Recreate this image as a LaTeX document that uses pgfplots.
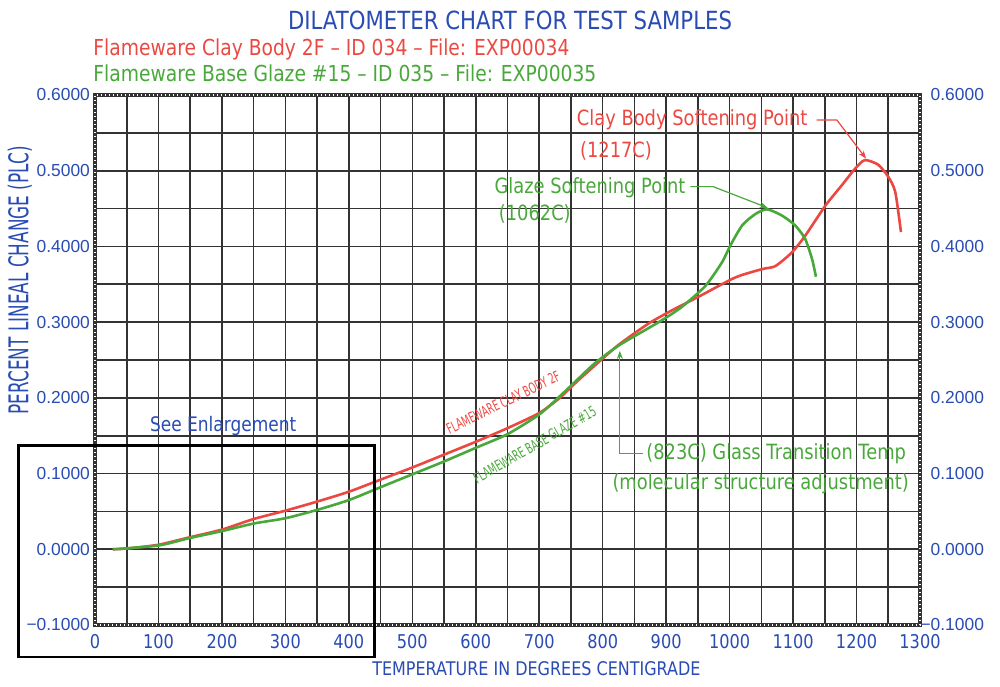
\documentclass[border=0pt]{standalone}
\usepackage{fontspec}
\setmainfont{DejaVu Sans}[FakeStretch=0.85]
\newfontfamily\narrowfont{DejaVu Sans}[FakeStretch=0.62]
\newfontfamily\tickfont{Liberation Sans}
\usepackage{pgfplots}
\pgfplotsset{compat=1.18}
\usetikzlibrary{arrows.meta}
\definecolor{cadblue}{RGB}{40,75,180}
\definecolor{cadred}{RGB}{236,72,66}
\definecolor{cadgreen}{RGB}{72,168,58}

\pgfplotstableread{
x y
28 0.000
50 0.001
100 0.006
150 0.016
200 0.026
250 0.040
300 0.051
350 0.063
400 0.076
450 0.092
500 0.108
550 0.125
600 0.142
650 0.160
700 0.180
731 0.199
760 0.222
788 0.243
825 0.270
872 0.298
910 0.316
952 0.334
1009 0.359
1051 0.370
1072 0.374
1098 0.392
1119 0.414
1151 0.454
1177 0.481
1198 0.503
1213 0.514
1234 0.508
1250 0.492
1261 0.472
1270 0.419
}\claydata

\pgfplotstableread{
x y
28 0.000
100 0.005
150 0.015
200 0.024
250 0.034
300 0.041
350 0.052
400 0.065
450 0.082
500 0.099
550 0.116
600 0.134
650 0.152
700 0.178
731 0.201
760 0.224
788 0.246
825 0.269
872 0.292
900 0.306
926 0.321
962 0.348
988 0.379
1001 0.401
1020 0.428
1041 0.443
1059 0.449
1082 0.441
1103 0.428
1119 0.410
1130 0.383
1136 0.360
}\glazedata

\begin{document}
\begin{tikzpicture}
\useasboundingbox (-47.5pt,-30.5pt) rectangle (452.5pt,312.5pt);
\begin{axis}[
  scale only axis, width=412.5pt, height=265pt,
  xmin=0, xmax=1300, ymin=-0.1, ymax=0.6,
  xtick={0,100,200,300,400,500,600,700,800,900,1000,1100,1200,1300},
  xticklabels={0,100,200,300,400,500,600,700,800,900,1000,1100,1200,1300},
  ytick={-0.1,0,0.1,0.2,0.3,0.4,0.5,0.6},
  yticklabels={−0.1000,0.0000,0.1000,0.2000,0.3000,0.4000,0.5000,0.6000},
  minor x tick num=1, minor y tick num=1,
  grid=both,
  major grid style={black!80, line width=0.8pt},
  minor grid style={black!80, line width=0.8pt},
  major tick length=0pt, minor tick length=0pt,
  axis line style={line width=2.4pt, black!80},
  xticklabel style={font=\fontsize{9.5}{10}\selectfont, text=cadblue, yshift=-1pt},
  yticklabel style={font=\tickfont\fontsize{8.7}{10}\selectfont, text=cadblue, xshift=1pt},
  xlabel={TEMPERATURE IN DEGREES CENTIGRADE},
  xlabel style={at={(axis description cs:0.535,-0.083)}, anchor=center, font=\fontsize{9.4}{10}\selectfont, text=cadblue},
  ylabel={PERCENT LINEAL CHANGE (PLC)},
  ylabel style={at={(axis description cs:-0.091,0.651)}, anchor=center, font=\narrowfont\fontsize{13.6}{14}\selectfont, text=cadblue},
  clip=false,
]
\addplot[cadred, line width=1.3pt, smooth, tension=0.4] table[x=x,y=y]{\claydata};
\addplot[cadgreen, line width=1.3pt, smooth, tension=0.4] table[x=x,y=y]{\glazedata};

% chain-like frame
\draw[white, line width=0.8pt, dash pattern=on 0.7pt off 1.3pt] (rel axis cs:0,0) rectangle (rel axis cs:1,1);

% headers
\node[text=cadblue, font=\fontsize{12.5}{14}\selectfont] at (axis cs:654,0.698) {DILATOMETER CHART FOR TEST SAMPLES};
\node[text=cadred, anchor=west, inner sep=0pt, font=\fontsize{11}{13}\selectfont] at (axis cs:-3,0.660) {Flameware Clay Body 2F – ID 034 – File: EXP00034};
\node[text=cadgreen, anchor=west, inner sep=0pt, font=\fontsize{11}{13}\selectfont] at (axis cs:-3,0.628) {Flameware Base Glaze \#15 – ID 035 – File: EXP00035};

% enlargement box
\draw[black, line width=1.3pt] (axis cs:-121,-0.142) rectangle (axis cs:440,0.137);
\node[text=cadblue, font=\fontsize{10}{12}\selectfont] at (axis cs:202,0.163) {See Enlargement};

% clay softening point
\node[text=cadred, font=\fontsize{10.5}{12}\selectfont] at (axis cs:941,0.568) {Clay Body Softening Point};
\node[text=cadred, font=\fontsize{10.5}{12}\selectfont] at (axis cs:821,0.526) {(1217C)};
\draw[cadred, line width=0.6pt, -{Stealth[length=4pt,width=3pt]}] (axis cs:1137,0.567) -- (axis cs:1169,0.567) -- (axis cs:1215,0.516);

% glaze softening point
\node[text=cadgreen, font=\fontsize{10.5}{12}\selectfont] at (axis cs:780,0.477) {Glaze Softening Point};
\node[text=cadgreen, font=\fontsize{10.5}{12}\selectfont] at (axis cs:693,0.443) {(1062C)};
\draw[cadgreen, line width=0.6pt, -{Stealth[length=4pt,width=3pt]}] (axis cs:938,0.479) -- (axis cs:974,0.479) -- (axis cs:1060,0.451);

% glass transition
\draw[cadgreen, line width=0.6pt, -{Stealth[length=4pt,width=3pt]}] (axis cs:864,0.126) -- (axis cs:827,0.126) -- (axis cs:827,0.262);
\node[text=cadgreen, anchor=west, inner sep=1pt, font=\fontsize{10.5}{12}\selectfont] at (axis cs:865,0.126) {(823C) Glass Transition Temp};
\node[text=cadgreen, font=\fontsize{10.5}{12}\selectfont] at (axis cs:1049,0.087) {(molecular structure adjustment)};

% curve labels
\node[text=cadred, rotate=26, inner sep=0pt, font=\narrowfont\fontsize{7.3}{8}\selectfont] at (axis cs:643,0.194) {FLAMEWARE CLAY BODY 2F};
\node[text=cadgreen, rotate=30, inner sep=0pt, font=\narrowfont\fontsize{7.3}{8}\selectfont] at (axis cs:693,0.138) {FLAMEWARE BASE GLAZE \#15};
\end{axis}

\begin{axis}[
  scale only axis, width=412.5pt, height=265pt,
  xmin=0, xmax=1300, ymin=-0.1, ymax=0.6,
  axis x line=none, axis y line*=right,
  y axis line style={draw=none},
  ytick={-0.1,0,0.1,0.2,0.3,0.4,0.5,0.6},
  yticklabels={−0.1000,0.0000,0.1000,0.2000,0.3000,0.4000,0.5000,0.6000},
  major tick length=0pt,
  yticklabel style={font=\tickfont\fontsize{8.7}{10}\selectfont, text=cadblue, anchor=east, xshift=35.5pt},
]
\end{axis}
\end{tikzpicture}
\end{document}
